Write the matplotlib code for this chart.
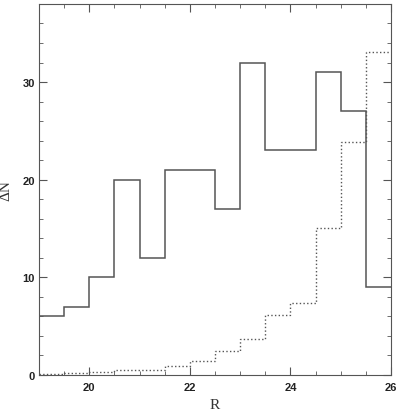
import matplotlib.pyplot as plt
from matplotlib.ticker import MultipleLocator

bin_edges = [19.0, 19.5, 20.0, 20.5, 21.0, 21.5, 22.0, 22.5, 23.0, 23.5, 24.0, 24.5, 25.0, 25.5, 26.0]
all_counts = [6, 7, 10, 20, 12, 21, 21, 17, 32, 23, 23, 31, 27, 9]
sub_counts = [0.05, 0.17, 0.3, 0.48, 0.48, 0.95, 1.4, 2.4, 3.7, 6.1, 7.4, 15.1, 23.9, 33.1]

fig = plt.figure(figsize=(4, 4.14), dpi=100)
ax = fig.add_axes([0.0975, 0.092, 0.88, 0.896])

line_col = '#555555'
ax.stairs(all_counts, bin_edges, baseline=None, color=line_col, linewidth=1.1)
ax.stairs(sub_counts, bin_edges, baseline=None, color=line_col, linewidth=1.0, linestyle=':')

ax.set_xlim(19, 26)
ax.set_ylim(0, 38)
ax.xaxis.set_major_locator(MultipleLocator(2))
ax.xaxis.set_minor_locator(MultipleLocator(0.5))
ax.yaxis.set_major_locator(MultipleLocator(10))
ax.yaxis.set_minor_locator(MultipleLocator(2))
ax.tick_params(which='both', direction='in', top=True, right=True, color=line_col,
               labelsize=8, labelcolor='#222222')
ax.tick_params(axis='x', pad=5)
ax.tick_params(axis='y', pad=3)
ax.tick_params(which='major', length=6)
ax.tick_params(which='minor', length=3)
for lab in ax.get_xticklabels() + ax.get_yticklabels():
    lab.set_family('Liberation Sans')
    lab.set_fontweight('bold')
for s in ax.spines.values():
    s.set_color(line_col)

ax.set_xlabel('R', family='Liberation Serif', fontsize=11, color='#333333', va='top')
ax.set_ylabel('ΔN', family='Liberation Serif', fontsize=11, color='#333333')
ax.xaxis.set_label_coords(0.5, -0.062)
ax.yaxis.set_label_coords(-0.075, 0.5)

fig.savefig('out.png')
